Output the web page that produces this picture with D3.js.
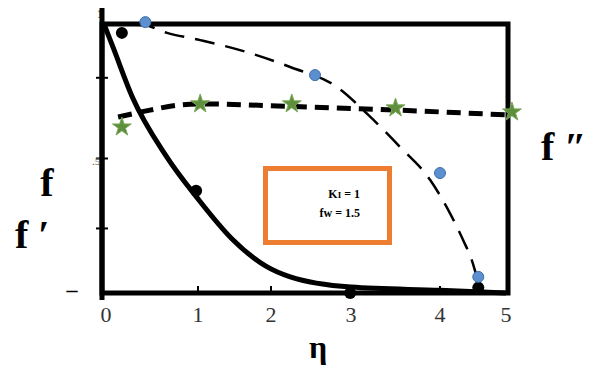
<!DOCTYPE html>
<html>
<head>
<meta charset="utf-8">
<script src="https://cdn.jsdelivr.net/npm/d3@7"></script>
<style>
  body{ margin: 0; background: #fff; }
  svg{ display: block; }
  svg text{ font-family: "Liberation Serif", "Times New Roman", "DejaVu Serif", serif; }
</style>
</head>
<body>
<div id="chart"></div>
<script>

// Axis ticks.
var x_ticks = [ 0, 1, 2, 3, 4, 5 ];
var y_ticks = [ 0.24, 0.5, 0.8 ];

// f' (solid line) and its black dots.
var fp_eta = [ 0, 0.1, 0.3, 0.66, 1.0, 1.47, 1.93, 2.24, 3, 4, 5 ];
var fp_val = [ 1, 0.91, 0.73, 0.51, 0.35, 0.2, 0.1, 0.06, 0.022, 0.01, 0 ];
var fp_dot_eta = [ 0.19, 0.98, 2.99, 4.58 ];
var fp_dot_val = [ 0.967, 0.38, 0.0, 0.02 ];

// f (thin dashed line) and its blue circles.
var f_eta = [ 0, 0.415, 0.67, 1.03, 1.575, 2.24, 2.825, 3.2, 3.55, 3.89, 4.15, 4.35, 4.48, 4.56, 4.64 ];
var f_val = [ 1, 0.996, 0.967, 0.94, 0.903, 0.84, 0.766, 0.66, 0.543, 0.42, 0.297, 0.197, 0.123, 0.06, 0.01 ];
var f_dot_eta = [ 0.44, 2.55, 4.0, 4.58 ];
var f_dot_val = [ 1.007, 0.81, 0.446, 0.06 ];

// f'' (thick dashed line) and its green stars.
var fpp_eta = [ 0.15, 0.49, 0.81, 1.03, 2.3, 3.5, 5.0 ];
var fpp_val = [ 0.654, 0.68, 0.699, 0.703, 0.693, 0.68, 0.662 ];
var fpp_star_eta = [ 0.19, 1.03, 2.26, 3.5, 5.09 ];
var fpp_star_val = [ 0.617, 0.703, 0.703, 0.688, 0.673 ];

var svg = d3.select( '#chart' )
  .append( 'svg' )
    .attr( 'width', 597 )
    .attr( 'height', 370 );

// The printed x axis is not evenly spaced, so map every tick separately.
var xScale = d3.scaleLinear()
  .domain( x_ticks )
  .range( [ 104, 198, 271, 351, 440, 506 ] );
var yScale = d3.scaleLinear()
  .domain( [ 0, 1 ] )
  .range( [ 293, 24 ] );

function zip( xs, ys ){ return xs.map( function( x, i ){ return [ x, ys[i] ]; } ); }

var line = d3.line()
  .x( function( d ){ return xScale( d[0] ); } )
  .y( function( d ){ return yScale( d[1] ); } )
  .curve( d3.curveMonotoneX );

// Frame around the plot.
svg.append( 'rect' )
  .attr( 'x', xScale( 0 ) - 2 )
  .attr( 'y', yScale( 1 ) )
  .attr( 'width', 508 - xScale( 0 ) + 2 )
  .attr( 'height', yScale( 0 ) - yScale( 1 ) )
  .attr( 'fill', 'none' )
  .attr( 'stroke', '#000' )
  .attr( 'stroke-width', 5 );

// Left axis runs a bit past the frame.
svg.append( 'line' )
  .attr( 'x1', 102 ).attr( 'x2', 102 )
  .attr( 'y1', 8 ).attr( 'y2', 300 )
  .attr( 'stroke', '#000' )
  .attr( 'stroke-width', 5 );

// Bottom ticks and labels.
var xg = svg.append( 'g' );
xg.selectAll( 'line' )
  .data( x_ticks.slice( 1, 5 ) )
  .enter()
  .append( 'line' )
    .attr( 'x1', function( d ){ return xScale( d ); } )
    .attr( 'x2', function( d ){ return xScale( d ); } )
    .attr( 'y1', yScale( 0 ) )
    .attr( 'y2', yScale( 0 ) - 7 )
    .attr( 'stroke', '#000' )
    .attr( 'stroke-width', 2 );
xg.selectAll( 'text' )
  .data( x_ticks )
  .enter()
  .append( 'text' )
    .attr( 'x', function( d ){ return xScale( d ) + ( d == 0 ? 2 : 0 ); } )
    .attr( 'y', 322 )
    .attr( 'text-anchor', 'middle' )
    .attr( 'font-size', 22 )
    .attr( 'fill', '#333' )
    .text( function( d ){ return d; } );

// Left ticks.
svg.append( 'g' ).selectAll( 'line' )
  .data( y_ticks )
  .enter()
  .append( 'line' )
    .attr( 'x1', 96 )
    .attr( 'x2', 108 )
    .attr( 'y1', function( d ){ return yScale( d ); } )
    .attr( 'y2', function( d ){ return yScale( d ); } )
    .attr( 'stroke', '#000' )
    .attr( 'stroke-width', 2 );

// The y tick labels came out garbled in the source image.
svg.append( 'text' ).attr( 'x', 100 ).attr( 'y', 18 ).attr( 'text-anchor', 'middle' )
  .attr( 'font-size', 13 ).text( '1' );
svg.append( 'text' ).attr( 'x', 96 ).attr( 'y', yScale( 0.5 ) + 6 ).attr( 'text-anchor', 'middle' )
  .attr( 'font-size', 11 ).attr( 'fill', '#555' ).text( '.5' );
svg.append( 'text' ).attr( 'x', 72 ).attr( 'y', 297 ).attr( 'text-anchor', 'middle' )
  .attr( 'font-weight', 'bold' ).attr( 'font-size', 22 ).text( '–' );

// Curves.
svg.append( 'path' )
  .attr( 'd', line( zip( fpp_eta, fpp_val ) ) )
  .attr( 'fill', 'none' )
  .attr( 'stroke', '#000' )
  .attr( 'stroke-width', 5 )
  .attr( 'stroke-dasharray', '14,8' );

svg.append( 'path' )
  .attr( 'd', line( zip( f_eta, f_val ) ) )
  .attr( 'fill', 'none' )
  .attr( 'stroke', '#000' )
  .attr( 'stroke-width', 2.5 )
  .attr( 'stroke-dasharray', '20,11' );

svg.append( 'path' )
  .attr( 'd', line( zip( fp_eta, fp_val ) ) )
  .attr( 'fill', 'none' )
  .attr( 'stroke', '#000' )
  .attr( 'stroke-width', 5 );

// Markers.
svg.append( 'g' ).selectAll( 'circle' )
  .data( zip( fp_dot_eta, fp_dot_val ) )
  .enter()
  .append( 'circle' )
    .attr( 'cx', function( d ){ return xScale( d[0] ); } )
    .attr( 'cy', function( d ){ return yScale( d[1] ); } )
    .attr( 'r', 6 )
    .attr( 'fill', '#000' );

svg.append( 'g' ).selectAll( 'circle' )
  .data( zip( f_dot_eta, f_dot_val ) )
  .enter()
  .append( 'circle' )
    .attr( 'cx', function( d ){ return xScale( d[0] ); } )
    .attr( 'cy', function( d ){ return yScale( d[1] ); } )
    .attr( 'r', 5.5 )
    .attr( 'fill', '#5b8fcf' )
    .attr( 'stroke', '#3f6fa8' )
    .attr( 'stroke-width', 1 );

var star = d3.symbol().type( d3.symbolStar ).size( 110 );
svg.append( 'g' ).selectAll( 'path' )
  .data( zip( fpp_star_eta, fpp_star_val ) )
  .enter()
  .append( 'path' )
    .attr( 'd', star )
    .attr( 'transform', function( d ){ return 'translate(' + xScale( d[0] ) + ',' + yScale( d[1] ) + ')'; } )
    .attr( 'fill', '#5e8f3c' )
    .attr( 'stroke', '#7aa85a' )
    .attr( 'stroke-width', 1 );

// Parameter box.
svg.append( 'rect' )
  .attr( 'x', 265.5 )
  .attr( 'y', 168.5 )
  .attr( 'width', 124 )
  .attr( 'height', 74 )
  .attr( 'fill', 'none' )
  .attr( 'stroke', '#ed7d31' )
  .attr( 'stroke-width', 5 );
var k_text = svg.append( 'text' )
  .attr( 'x', 360 ).attr( 'y', 198 )
  .attr( 'text-anchor', 'end' )
  .attr( 'font-weight', 'bold' ).attr( 'font-size', 12 );
k_text.append( 'tspan' ).text( 'K' );
k_text.append( 'tspan' ).attr( 'font-size', 9 ).text( 'I' );
k_text.append( 'tspan' ).text( ' = 1' );
svg.append( 'text' )
  .attr( 'x', 360 ).attr( 'y', 217 )
  .attr( 'text-anchor', 'end' )
  .attr( 'font-weight', 'bold' ).attr( 'font-size', 12 )
  .text( 'fw = 1.5' );

// Axis titles.
svg.append( 'text' ).attr( 'x', 47 ).attr( 'y', 196 ).attr( 'text-anchor', 'middle' )
  .attr( 'font-weight', 'bold' ).attr( 'font-size', 40 ).text( 'f' );
svg.append( 'text' ).attr( 'x', 15 ).attr( 'y', 248 )
  .attr( 'font-weight', 'bold' ).attr( 'font-size', 40 ).text( 'f ′' );
svg.append( 'text' ).attr( 'x', 541 ).attr( 'y', 160 )
  .attr( 'font-weight', 'bold' ).attr( 'font-size', 40 ).text( 'f ″' );
svg.append( 'text' ).attr( 'x', 318 ).attr( 'y', 358 ).attr( 'text-anchor', 'middle' )
  .attr( 'font-weight', 'bold' ).attr( 'font-size', 32 ).text( 'η' );

</script>
</body>
</html>
